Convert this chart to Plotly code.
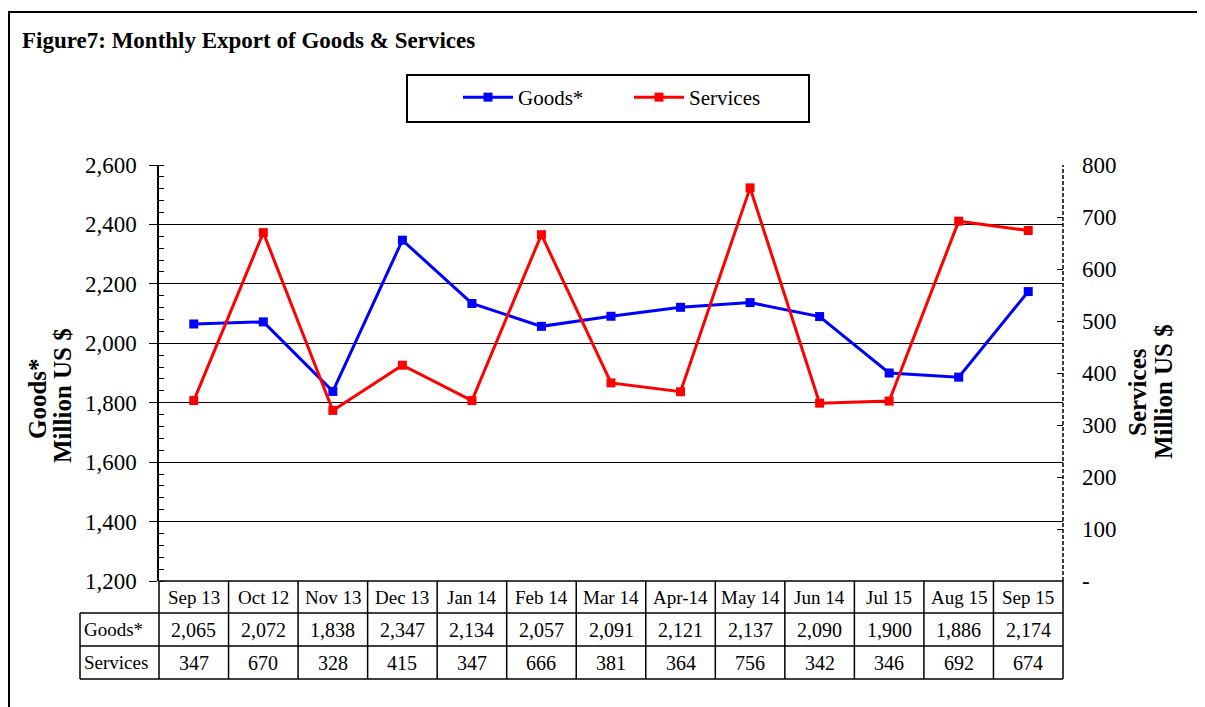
import plotly.graph_objects as go

months = ["Sep 13", "Oct 12", "Nov 13", "Dec 13", "Jan 14", "Feb 14", "Mar 14",
          "Apr-14", "May 14", "Jun 14", "Jul 15", "Aug 15", "Sep 15"]
goods = [2065, 2072, 1838, 2347, 2134, 2057, 2091, 2121, 2137, 2090, 1900, 1886, 2174]
services = [347, 670, 328, 415, 347, 666, 381, 364, 756, 342, 346, 692, 674]
left_ticks = [1200, 1400, 1600, 1800, 2000, 2200, 2400, 2600]
right_ticks = [0, 100, 200, 300, 400, 500, 600, 700, 800]
right_ticktext = ["-", "100", "200", "300", "400", "500", "600", "700", "800"]

OFF = 8  # page body margin
W, H = 1205 - OFF, 707 - OFF
L, R, T, B = 159, 1063, 165, 581  # plot area in page pixels
pw, ph = R - L, B - T

def px_x(x):
    return (x - L) / pw

def px_y(y):
    return (B - y) / ph

FONT = "Liberation Serif, Times New Roman, serif"
xs = list(range(len(months)))

fig = go.Figure()
fig.add_trace(go.Scatter(x=xs, y=goods, name="Goods*", mode="lines+markers",
                         line=dict(color="#0000FF", width=3),
                         marker=dict(symbol="square", size=9, color="#0000FF")))
fig.add_trace(go.Scatter(x=xs, y=services, name="Services", mode="lines+markers",
                         yaxis="y2",
                         line=dict(color="#FF0000", width=3),
                         marker=dict(symbol="square", size=9, color="#FF0000")))

shapes = []
ann = []
n = len(months)
# outer frame
shapes.append(dict(type="rect", xref="paper", yref="paper",
                   x0=px_x(9), x1=px_x(1230), y0=px_y(730), y1=px_y(12),
                   line=dict(color="black", width=2), fillcolor="rgba(0,0,0,0)", layer="below"))
# legend frame
shapes.append(dict(type="rect", xref="paper", yref="paper",
                   x0=px_x(407), x1=px_x(809), y0=px_y(122), y1=px_y(75),
                   line=dict(color="black", width=2), fillcolor="rgba(0,0,0,0)"))
# dashed right axis line
shapes.append(dict(type="line", xref="paper", yref="paper", x0=1, x1=1, y0=0, y1=1,
                   line=dict(color="black", width=1.5, dash="4px,2px")))
# table
y_rows = [px_y(581), px_y(613), px_y(646), px_y(679)]
shapes.append(dict(type="line", xref="paper", yref="paper", x0=0, x1=1, y0=y_rows[0], y1=y_rows[0],
                   line=dict(color="black", width=1.5)))
for yy in y_rows[1:]:
    shapes.append(dict(type="line", xref="paper", yref="paper", x0=px_x(80), x1=1, y0=yy, y1=yy,
                       line=dict(color="black", width=1.5)))
for k in range(n + 1):
    shapes.append(dict(type="line", xref="paper", yref="paper", x0=k / n, x1=k / n,
                       y0=y_rows[0], y1=y_rows[3], line=dict(color="black", width=1.5)))
shapes.append(dict(type="line", xref="paper", yref="paper", x0=px_x(80), x1=px_x(80),
                   y0=y_rows[1], y1=y_rows[3], line=dict(color="black", width=1.5)))

yc = [px_y(597), px_y(629.5), px_y(662.5)]
for k in range(n):
    xc = (k + 0.5) / n
    ann.append(dict(x=xc, y=yc[0], xref="paper", yref="paper", text=months[k], showarrow=False,
                    xanchor="center", yanchor="middle",
                    font=dict(family=FONT, size=19, color="black")))
    ann.append(dict(x=xc, y=yc[1], xref="paper", yref="paper", text=f"{goods[k]:,}", showarrow=False,
                    xanchor="center", yanchor="middle",
                    font=dict(family=FONT, size=20, color="black")))
    ann.append(dict(x=xc, y=yc[2], xref="paper", yref="paper", text=f"{services[k]:,}", showarrow=False,
                    xanchor="center", yanchor="middle",
                    font=dict(family=FONT, size=20, color="black")))
ann.append(dict(x=px_x(82), y=yc[1], xref="paper", yref="paper", text="Goods*", showarrow=False,
                xanchor="left", yanchor="middle", font=dict(family=FONT, size=19, color="black")))
ann.append(dict(x=px_x(82), y=yc[2], xref="paper", yref="paper", text="Services", showarrow=False,
                xanchor="left", yanchor="middle", font=dict(family=FONT, size=19, color="black")))
# title
ann.append(dict(x=px_x(20), y=px_y(40), xref="paper", yref="paper", showarrow=False,
                text="<b>Figure7: Monthly Export of Goods &amp; Services</b>", xanchor="left",
                yanchor="middle", font=dict(family=FONT, size=23, color="black")))
# axis titles (one annotation per line for tight spacing)
for txt, cx, cy in [("Goods*", 37, 399), ("Million US $", 62, 396),
                    ("Services", 1137, 392), ("Million US $", 1163, 392)]:
    ann.append(dict(x=px_x(cx), y=px_y(cy), xref="paper", yref="paper", showarrow=False,
                    textangle=-90, xanchor="center", yanchor="middle",
                    text=f"<b>{txt}</b>", font=dict(family=FONT, size=25, color="black")))

fig.update_layout(
    width=W, height=H,
    margin=dict(l=L - OFF, r=W - (R - OFF), t=T - OFF, b=H - (B - OFF), autoexpand=False),
    paper_bgcolor="white", plot_bgcolor="white",
    font=dict(family=FONT, color="black"),
    showlegend=True,
    legend=dict(orientation="h", x=px_x(458), y=px_y(77), xanchor="left", yanchor="top",
                borderwidth=0, bgcolor="rgba(0,0,0,0)",
                font=dict(family=FONT, size=21, color="black"),
                entrywidth=106, entrywidthmode="pixels", itemwidth=50,
                ),
    xaxis=dict(range=[-0.5, n - 0.5], showticklabels=False, ticks="", showgrid=False,
               zeroline=False, showline=False),
    yaxis=dict(range=[1200, 2600], tickvals=left_ticks, tickformat=",", showgrid=True,
               gridcolor="black", gridwidth=1.3, zeroline=False, showline=True,
               linecolor="black", linewidth=1.5, ticks="outside", ticklen=8, tickcolor="black",
               ticklabelstandoff=8,
               tickfont=dict(family=FONT, size=23, color="black"),
               minor=dict(dtick=40, ticks="inside", ticklen=5, tickcolor="black", showgrid=False)),
    yaxis2=dict(range=[0, 800], overlaying="y", side="right", tickvals=right_ticks,
                ticktext=right_ticktext, showgrid=False, zeroline=False, showline=False,
                ticks="inside", ticklen=6, tickcolor="black", ticklabelstandoff=18,
                tickfont=dict(family=FONT, size=23, color="black")),
    shapes=shapes, annotations=ann,
)
fig.write_html("out.html")
